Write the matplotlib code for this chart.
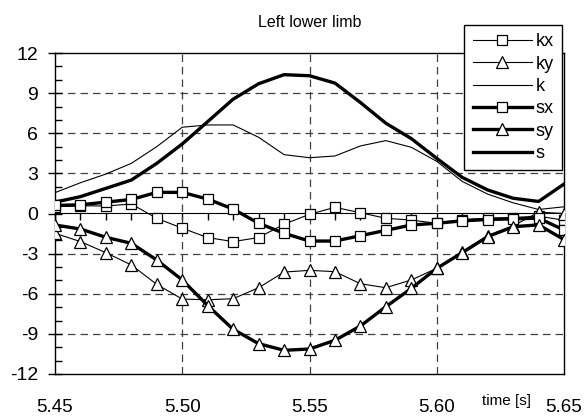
import matplotlib
matplotlib.use("Agg")
import matplotlib.pyplot as plt
from matplotlib.ticker import MultipleLocator, FixedLocator, NullFormatter

# ---- data ----
time = [5.45, 5.46, 5.47, 5.48, 5.49, 5.50, 5.51, 5.52, 5.53, 5.54, 5.55,
        5.56, 5.57, 5.58, 5.59, 5.60, 5.61, 5.62, 5.63, 5.64, 5.65]
kx = [0.50, 0.58, 0.56, 0.71, -0.36, -1.10, -1.80, -2.10, -1.80, -0.80, -0.06,
      0.46, 0.06, -0.36, -0.49, -0.73, -0.45, -0.35, -0.30, -0.20, -0.50]
ky = [-1.48, -2.10, -2.93, -3.85, -5.30, -6.40, -6.45, -6.37, -5.55, -4.38, -4.25,
      -4.35, -5.25, -5.55, -4.97, -4.10, -2.85, -1.66, -0.93, 0.10, 0.00]
k = [1.56, 2.30, 2.95, 3.75, 5.00, 6.45, 6.62, 6.62, 5.70, 4.40, 4.17,
     4.30, 5.05, 5.45, 4.95, 3.90, 2.40, 1.45, 0.80, 0.30, 0.50]
sx = [0.60, 0.65, 0.85, 1.05, 1.58, 1.58, 1.08, 0.33, -0.73, -1.48, -2.06,
      -2.06, -1.66, -1.26, -0.86, -0.73, -0.55, -0.45, -0.40, -0.35, -1.23]
sy = [-0.86, -1.16, -1.78, -2.23, -3.48, -4.97, -6.88, -8.66, -9.73, -10.23, -10.13,
      -9.48, -8.41, -6.97, -5.60, -4.10, -2.93, -1.73, -0.99, -0.85, -1.95]
s = [0.85, 1.26, 1.88, 2.50, 3.75, 5.20, 6.87, 8.55, 9.70, 10.38, 10.30,
     9.75, 8.30, 6.75, 5.60, 4.12, 2.70, 1.76, 1.14, 0.90, 2.20]

series_names = ["kx", "ky", "k", "sx", "sy", "s"]
x_ticks = [5.45, 5.50, 5.55, 5.60, 5.65]
x_tick_labels = ["5.45", "5.50", "5.55", "5.60", "5.65"]
y_ticks = [-12, -9, -6, -3, 0, 3, 6, 9, 12]
title = "Left lower limb"
x_label = "time [s]"

plt.rcParams["font.family"] = ["Liberation Sans", "DejaVu Sans"]

fig = plt.figure(figsize=(5.85, 4.18), dpi=100)
ax = fig.add_axes([55 / 585, 44 / 418, 509 / 585, 321 / 418])

ax.set_xlim(5.45, 5.65)
ax.set_ylim(-12, 12)

# gridlines
for yv in [-9, -6, -3, 3, 6, 9]:
    ax.axhline(yv, color="#404040", lw=0.9, dashes=(6, 4), zorder=1)
for xv in [5.50, 5.55, 5.60]:
    ax.axvline(xv, color="#404040", lw=0.9, dashes=(6, 4), zorder=1)

thin = 0.8
thick = 2.4
common_sq = dict(marker="s", markersize=6.5, markerfacecolor="white",
                 markeredgecolor="black", markeredgewidth=0.9)
common_tr = dict(marker="^", markersize=8, markerfacecolor="white",
                 markeredgecolor="black", markeredgewidth=0.9)

ax.plot(time, kx, color="black", lw=thin, label=series_names[0], zorder=4, **common_sq)
ax.plot(time, ky, color="black", lw=thin, label=series_names[1], zorder=4, **common_tr)
ax.plot(time, k, color="black", lw=thin, label=series_names[2], zorder=3)
ax.plot(time, sx, color="black", lw=thick, label=series_names[3], zorder=4, **common_sq)
ax.plot(time, sy, color="black", lw=thick, label=series_names[4], zorder=4, **common_tr)
ax.plot(time, s, color="black", lw=thick, label=series_names[5], zorder=3)

# frame
for sp in ax.spines.values():
    sp.set_linewidth(1.0)
    sp.set_color("black")

# y axis ticks
ax.yaxis.set_major_locator(FixedLocator(y_ticks))
ax.yaxis.set_minor_locator(MultipleLocator(1))
ax.tick_params(axis="y", which="major", direction="inout", length=10, width=1.0,
               labelsize=14, pad=7)
ax.tick_params(axis="y", which="minor", direction="in", length=5, width=1.0)
ax.set_yticklabels([str(v) for v in y_ticks])

# x axis labels at bottom, no ticks there
ax.set_xticks(x_ticks)
ax.set_xticklabels(x_tick_labels)
ax.tick_params(axis="x", which="major", length=0, labelsize=13.5, pad=18)

# axis through zero with small ticks
sec = ax.secondary_xaxis(0.5)
sec.xaxis.set_major_locator(MultipleLocator(0.01))
sec.xaxis.set_major_formatter(NullFormatter())
sec.tick_params(axis="x", direction="in", length=5, width=1.0)
sec.spines["bottom"].set_linewidth(1.0)

ax.set_title(title, fontsize=11.5, pad=19)
fig.text(507 / 585, 1 - 401 / 418, x_label, fontsize=11,
         ha="center", va="center")

leg = ax.legend(loc="upper right", bbox_to_anchor=(562 / 585, 1 - 25 / 418),
                bbox_transform=fig.transFigure, frameon=True, fancybox=False,
                edgecolor="black", framealpha=1, fontsize=13, numpoints=1,
                handlelength=3.3, handletextpad=0.2, labelspacing=0.3,
                borderpad=0.45, borderaxespad=0)
leg.get_frame().set_linewidth(1.0)
leg.set_zorder(10)

fig.savefig("out.png", dpi=100)
